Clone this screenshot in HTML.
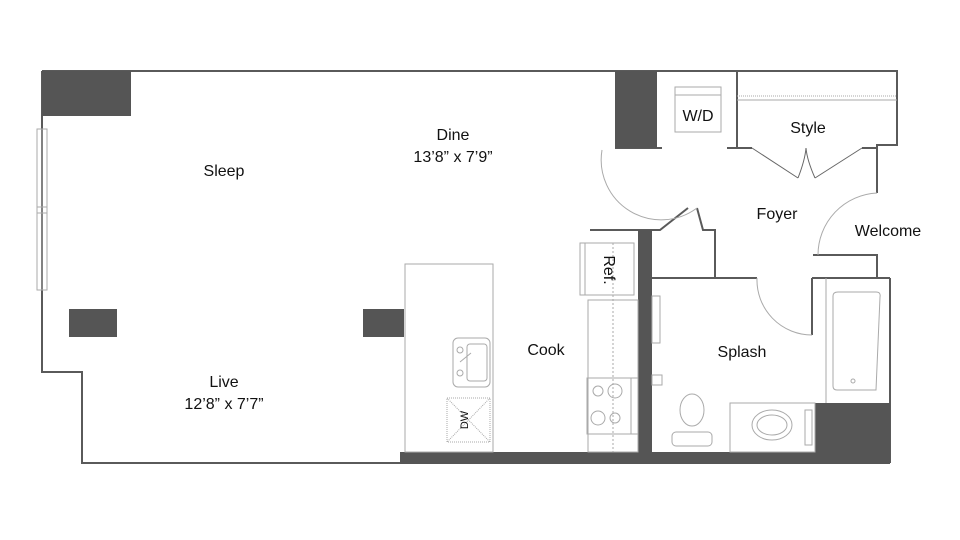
<!DOCTYPE html>
<html><head><meta charset="utf-8"><style>
html,body{margin:0;padding:0;background:#fff;}
svg{display:block;}
text{font-family:"Liberation Sans",sans-serif;font-size:16px;fill:#111;text-anchor:middle;}
</style></head><body>
<svg width="960" height="540" viewBox="0 0 960 540" xmlns="http://www.w3.org/2000/svg">
<g fill="none" stroke="#5a5a5a" stroke-width="2">
<!-- outer walls -->
<polyline points="42,71 897,71 897,145 877,145 877,193"/>
<polyline points="42,71 42,372 82,372 82,463 400,463"/>
<polyline points="813,255 877,255 877,278"/>
<line x1="890" y1="278" x2="890" y2="463"/>
<!-- closet walls -->
<line x1="737" y1="71" x2="737" y2="148"/>
<line x1="727" y1="148" x2="752" y2="148"/>
<line x1="862" y1="148" x2="877" y2="148"/>
<line x1="615" y1="148" x2="662" y2="148"/>
<polyline points="590,230 660,230 688,208"/>
<polyline points="697,208 703,230 715,230 715,278"/>
<line x1="652" y1="278" x2="757" y2="278"/>
<line x1="812" y1="278" x2="890" y2="278"/>
<line x1="812" y1="278" x2="812" y2="335"/>
</g>
<g fill="none" stroke="#666" stroke-width="1">
<line x1="752" y1="148" x2="798" y2="178"/>
<line x1="862" y1="148" x2="815" y2="178"/>
<path d="M798,178 Q805,160 806,148 Q807,160 815,178"/>
</g>
<!-- dark blocks -->
<g fill="#555">
<rect x="42" y="71" width="89" height="45"/>
<rect x="69" y="309" width="48" height="28"/>
<rect x="363" y="309" width="41" height="28"/>
<rect x="615" y="71" width="42" height="77"/>
<rect x="638" y="230" width="14" height="233"/>
<rect x="400" y="452" width="490" height="12"/>
<rect x="815" y="403" width="75" height="60"/>
</g>
<!-- light fixtures -->
<g fill="none" stroke="#aaa" stroke-width="1">
<rect x="37" y="129" width="10" height="161"/>
<line x1="42" y1="129" x2="42" y2="290"/>
<line x1="37" y1="207" x2="47" y2="207"/>
<line x1="37" y1="213" x2="47" y2="213"/>
<line x1="737" y1="100" x2="897" y2="100"/>
<line x1="737" y1="96" x2="897" y2="96" stroke-dasharray="1,1"/>
<rect x="675" y="87" width="46" height="45"/>
<line x1="675" y1="95" x2="721" y2="95"/>
<path d="M602,150 A60,60 0 0 0 697,208"/>
<path d="M818,255 A62,62 0 0 1 877,193"/>
<path d="M757,278 A55,55 0 0 0 812,335"/>
<rect x="405" y="264" width="88" height="188"/>
<rect x="453" y="338" width="37" height="49" rx="5"/>
<rect x="467" y="344" width="20" height="37" rx="3"/>
<circle cx="460" cy="350" r="3"/><circle cx="460" cy="373" r="3"/>
<line x1="460" y1="362" x2="471" y2="353"/>
<rect x="447" y="398" width="43" height="44" stroke-dasharray="1,1"/>
<line x1="447" y1="398" x2="490" y2="442" stroke-dasharray="1,1"/>
<line x1="490" y1="398" x2="447" y2="442" stroke-dasharray="1,1"/>
<rect x="580" y="243" width="54" height="52"/>
<line x1="585" y1="243" x2="585" y2="295"/>
<rect x="588" y="300" width="50" height="152"/>
<line x1="613" y1="243" x2="613" y2="452" stroke-dasharray="2,2"/>
<rect x="587" y="378" width="51" height="56"/>
<line x1="631" y1="378" x2="631" y2="434"/>
<circle cx="598" cy="391" r="5"/><circle cx="615" cy="391" r="7"/>
<circle cx="598" cy="418" r="7"/><circle cx="615" cy="418" r="5"/>
<rect x="652" y="296" width="8" height="47"/>
<rect x="652" y="375" width="10" height="10"/>
<line x1="826" y1="278" x2="826" y2="403"/>
<path d="M833,296 Q833,292 838,292 L876,292 Q881,292 880,297 L876,390 L837,390 Q833,390 833,386 Z"/>
<circle cx="853" cy="381" r="2"/>
<rect x="730" y="403" width="85" height="49"/>
<ellipse cx="772" cy="425" rx="20" ry="15"/>
<ellipse cx="772" cy="425" rx="15" ry="10"/>
<rect x="805" y="410" width="7" height="35"/>
<ellipse cx="692" cy="410" rx="12" ry="16"/>
<rect x="672" y="432" width="40" height="14" rx="4"/>
</g>
<!-- labels -->
<text x="224" y="176">Sleep</text>
<text x="453" y="140">Dine</text>
<text x="453" y="162">13’8” x 7’9”</text>
<text x="224" y="387">Live</text>
<text x="224" y="409">12’8” x 7’7”</text>
<text x="546" y="355">Cook</text>
<text x="742" y="357">Splash</text>
<text x="777" y="219">Foyer</text>
<text x="888" y="236">Welcome</text>
<text x="808" y="133">Style</text>
<text x="698" y="121">W/D</text>
<text x="0" y="0" transform="translate(604,270) rotate(90)">Ref.</text>
<text x="0" y="0" transform="translate(464,420) rotate(-90)" style="font-size:11px" dy="4">DW</text>
</svg>
</body></html>
